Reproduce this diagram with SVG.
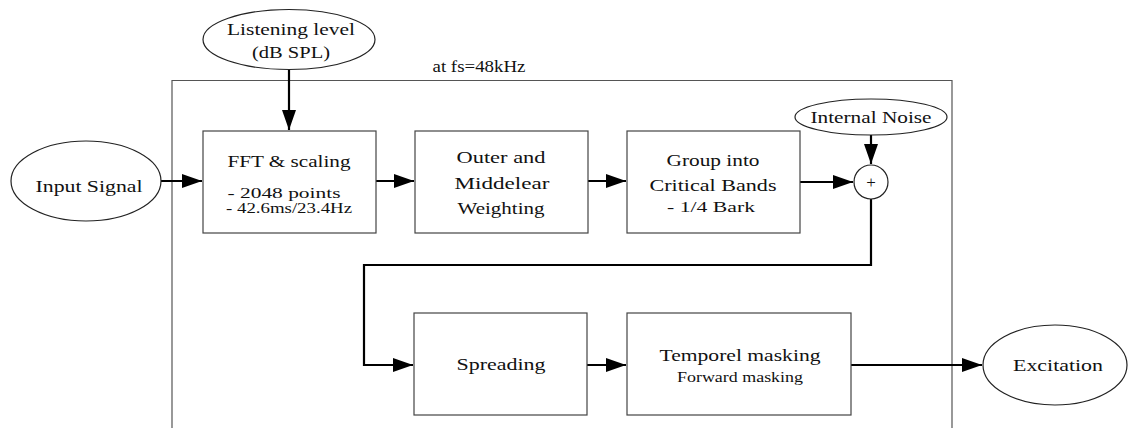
<svg xmlns="http://www.w3.org/2000/svg" width="1130" height="428" viewBox="0 0 1130 428">
<defs>
<marker id="arr" markerWidth="20" markerHeight="14" refX="20" refY="7" orient="auto" markerUnits="userSpaceOnUse">
<path d="M0,0 L20,7 L0,14 Z" fill="#000"/>
</marker>
<style>
.t{font-family:"Liberation Serif","DejaVu Serif",serif;font-size:17px;fill:#111;text-anchor:middle}
.s{font-size:14px}
.box{fill:#fff;stroke:#444;stroke-width:1.2}
.ell{fill:#fff;stroke:#222;stroke-width:1.2}
.c{fill:none;stroke:#000;stroke-width:2.2}
</style>
</defs>
<rect width="1130" height="428" fill="#fff"/>
<g id="frame">
<path d="M172,430 V80.5 H952 V430" fill="none" stroke="#555" stroke-width="1.2"/>
<text class="t" x="479" y="72" textLength="93" lengthAdjust="spacingAndGlyphs">at fs=48kHz</text>
</g>
<g id="connectors">
<path class="c" d="M289,70 V130" marker-end="url(#arr)"/>
<path class="c" d="M161,181 H202" marker-end="url(#arr)"/>
<path class="c" d="M376,181 H414" marker-end="url(#arr)"/>
<path class="c" d="M588,181 H626" marker-end="url(#arr)"/>
<path class="c" d="M800,182 H853" marker-end="url(#arr)"/>
<path class="c" d="M871,135 V164" marker-end="url(#arr)"/>
<path class="c" d="M871,199 V265 H364 V365 H413" marker-end="url(#arr)"/>
<path class="c" d="M587,365 H626" marker-end="url(#arr)"/>
<path class="c" d="M851,365 H982" marker-end="url(#arr)"/>
</g>
<g id="listening">
<ellipse class="ell" cx="289" cy="39.5" rx="86" ry="30"/>
<text class="t" x="291" y="35" textLength="128" lengthAdjust="spacingAndGlyphs">Listening level</text>
<text class="t" x="291" y="58" textLength="78" lengthAdjust="spacingAndGlyphs">(dB SPL)</text>
</g>
<g id="input">
<ellipse class="ell" cx="86" cy="181" rx="75" ry="40"/>
<text class="t" x="89" y="192" textLength="107" lengthAdjust="spacingAndGlyphs">Input Signal</text>
</g>
<g id="fft">
<rect class="box" x="203" y="131" width="173" height="102"/>
<text class="t" x="289" y="167" textLength="123" lengthAdjust="spacingAndGlyphs">FFT &amp; scaling</text>
<text class="t s" x="284" y="198" textLength="113" lengthAdjust="spacingAndGlyphs">- 2048 points</text>
<text class="t s" x="289" y="213" textLength="126" lengthAdjust="spacingAndGlyphs">- 42.6ms/23.4Hz</text>
</g>
<g id="outer">
<rect class="box" x="415" y="131" width="173" height="102"/>
<text class="t" x="501" y="163" textLength="89" lengthAdjust="spacingAndGlyphs">Outer and</text>
<text class="t" x="502" y="189" textLength="95" lengthAdjust="spacingAndGlyphs">Middelear</text>
<text class="t" x="501" y="214" textLength="87" lengthAdjust="spacingAndGlyphs">Weighting</text>
</g>
<g id="group">
<rect class="box" x="627" y="131" width="173" height="102"/>
<text class="t" x="713" y="166" textLength="93" lengthAdjust="spacingAndGlyphs">Group into</text>
<text class="t" x="713" y="191" textLength="127" lengthAdjust="spacingAndGlyphs">Critical Bands</text>
<text class="t s" x="711" y="212" textLength="88" lengthAdjust="spacingAndGlyphs">- 1/4 Bark</text>
</g>
<g id="noise">
<ellipse class="ell" cx="871" cy="117" rx="76" ry="18"/>
<text class="t" x="871" y="123" textLength="121" lengthAdjust="spacingAndGlyphs">Internal Noise</text>
</g>
<g id="sum">
<circle class="ell" cx="871" cy="182" r="17"/>
<text class="t" x="871" y="188">+</text>
</g>
<g id="spreading">
<rect class="box" x="414" y="313" width="173" height="102"/>
<text class="t" x="501" y="370" textLength="89" lengthAdjust="spacingAndGlyphs">Spreading</text>
</g>
<g id="temporal">
<rect class="box" x="627" y="313" width="224" height="102"/>
<text class="t" x="740" y="361" textLength="161" lengthAdjust="spacingAndGlyphs">Temporel masking</text>
<text class="t s" x="740" y="382" textLength="126" lengthAdjust="spacingAndGlyphs">Forward masking</text>
</g>
<g id="excitation">
<ellipse class="ell" cx="1055" cy="365" rx="72" ry="40"/>
<text class="t" x="1058" y="371" textLength="90" lengthAdjust="spacingAndGlyphs">Excitation</text>
</g>
</svg>
